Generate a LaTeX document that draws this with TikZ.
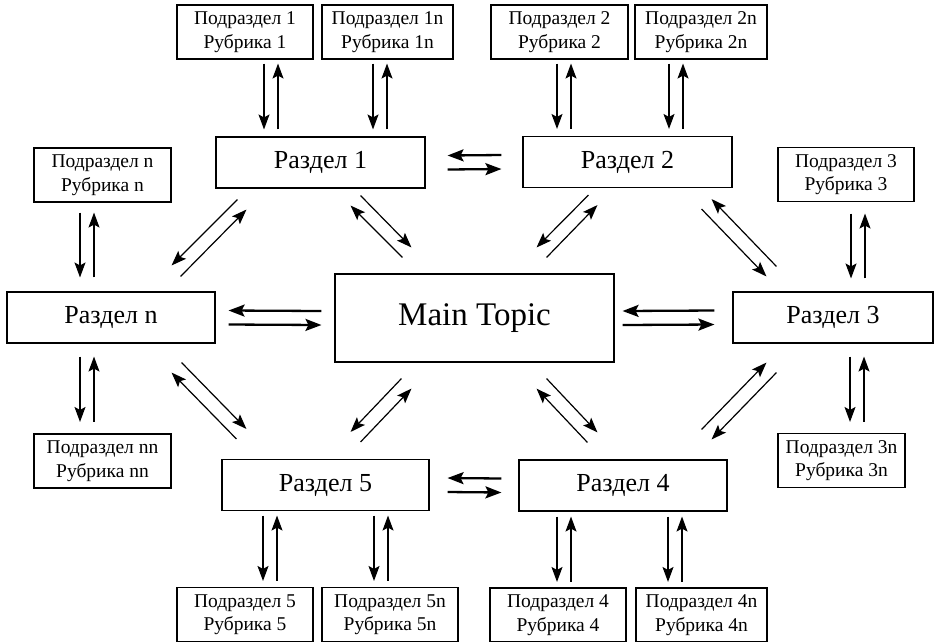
\documentclass[tikz,border=0pt]{standalone}
\usepackage{fontspec}
\setmainfont{Liberation Serif}
\usetikzlibrary{arrows.meta,calc}

\begin{document}
\begin{tikzpicture}[x=1pt,y=-1pt]
        \tikzstyle{sub}=[draw=black,line width=1.1pt,fill=white,align=center,inner sep=0pt,minimum height=54pt,font=\fontsize{19.5}{23.5}\selectfont]
        \tikzstyle{part}=[draw=black,line width=1.1pt,fill=white,inner sep=0pt,minimum height=51pt,font=\fontsize{26}{30}\selectfont]
        \tikzstyle{topic}=[draw=black,line width=1.1pt,fill=white,inner sep=0pt,minimum width=279pt,minimum height=88pt,font=\fontsize{33}{40}\selectfont]
        \tikzstyle{thinarr}=[-{Stealth[length=15pt,width=11pt,inset=3pt]},line width=1.2pt]
        \tikzstyle{thickarr}=[-{Stealth[length=16pt,width=12pt,inset=3pt]},line width=2.3pt]
        \useasboundingbox (0,0) rectangle (941,641);

        \node[topic] (topic) at (474.5,318) {Main Topic};
        \foreach \name/\x/\y/\w/\txt in {r1/320.5/162.5/209/Раздел 1, r2/627.5/162/209/Раздел 2,
                rn/111/317.5/208/Раздел n, r3/833/317.5/200/Раздел 3,
                r5/325.5/485/207/Раздел 5, r4/623/485.5/208/Раздел 4}
                \node[part,minimum width=\w pt] (\name) at (\x,\y) {\txt};
        \foreach \name/\x/\y/\w/\num in {s1/245/32/136/1, s1n/387.5/32/131/1n, s2/559.5/32/137/2, s2n/701/32/132/2n,
                sn/102.5/175/137/n, s3/846/174.5/136/3, snn/102.5/461/137/nn, s3n/841.5/460.5/127/3n,
                s5/245/614.5/136/5, s5n/390/614.5/136/5n, s4/558/615/136/4, s4n/701.5/615/131/4n}
                \node[sub,minimum width=\w pt] (\name) at (\x,\y) {Подраздел \num\\Рубрика \num};

        % vertical pairs: down on the left, up on the right
        \foreach \u/\l/\du/\dl/\gu/\gl in {s1/r1/19/-56.5/4/7, s1n/r1/-14.5/52.5/4/7,
                s2/r2/-2.5/-70.5/4/7, s2n/r2/-32/41.5/4/7,
                sn/rn/-22.5/-31/10/14, s3/r3/5/18/11.5/13,
                rn/snn/-31/-22.5/13/11.5, r3/s3n/17/8.5/13/11,
                r5/s5/-62.5/18/4.5/6, r5/s5n/48.5/-16/4.5/6,
                r4/s4/-66/-1/5/5.5, r4/s4n/45/-33.5/5/5.5}
        {
                \draw[thinarr] ($(\u.south)+(\du,\gu)$) -- ($(\l.north)+(\dl,-\gl)$);
                \draw[thinarr] ($(\l.north)+(\dl+14,-\gl)$) -- ($(\u.south)+(\du+14,\gu)$);
        }

        % horizontal pairs
        \foreach \l/\r/\gl/\gr in {r1/r2/22/21, rn/topic/13/13, topic/r3/8/18, r5/r4/18/17}
        {
                \draw[thickarr] ($(\r.west)+(-\gr,-7)$) -- ($(\l.east)+(\gl,-7)$);
                \draw[thickarr] ($(\l.east)+(\gl,7)$) -- ($(\r.west)+(-\gr,7)$);
        }

        % diagonal pairs
        \foreach \a/\ax/\ay/\b/\bx/\by in {
                r1.south east/-65/7/topic.north west/77/-26, topic.north west/68/-16/r1.south east/-75/17,
                r2.south west/66/7/topic.north east/-78/-26, topic.north east/-68/-16/r2.south west/75/17,
                r1.south west/22/11/rn.north east/-44/-26, rn.north east/-35/-15/r1.south west/31/21,
                r2.south east/-31/21/r3.north west/34/-15, r3.north west/44/-25/r2.south east/-21/11,
                rn.south east/-34/19/r5.north west/25/-30, r5.north west/15/-20/rn.south east/-44/29,
                topic.south west/67/16/r5.north east/-79/-27, r5.north east/-69/-17/topic.south west/77/26,
                topic.south east/-68/16/r4.north west/79/-27, r4.north west/69/-17/topic.south east/-78/26,
                r4.north east/-26/-30/r3.south west/34/19, r3.south west/44/29/r4.north east/-16/-20}
                \draw[thinarr] ($(\a)+(\ax,\ay)$) -- ($(\b)+(\bx,\by)$);
\end{tikzpicture}
\end{document}
